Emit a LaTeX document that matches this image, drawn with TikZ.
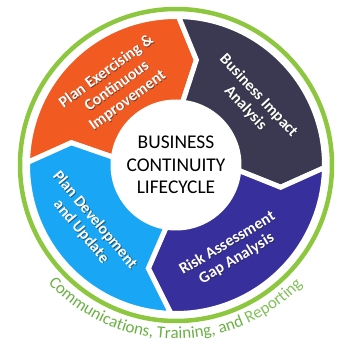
\documentclass[tikz,border=0pt]{standalone}
\usepackage{fontspec}
\setmainfont{Carlito}
\usepackage{tikz}
\usetikzlibrary{decorations.text}
\definecolor{BcOrange}{RGB}{241,91,34}
\definecolor{BcSlate}{RGB}{58,57,81}
\definecolor{BcIndigo}{RGB}{55,47,156}
\definecolor{BcSky}{RGB}{25,167,245}
\definecolor{BcRing}{RGB}{141,198,63}
\definecolor{BcGreen}{RGB}{106,176,68}
\definecolor{BcLight}{RGB}{130,192,90}
\tikzset{seg/.style={draw=white,line width=5bp,line join=miter}, lbl/.style={text=white,align=center,font=\fontsize{16}{18}\selectfont\bfseries}, shd/.style={lbl,text=black!85,opacity=0.6}}

\begin{document}
\begin{tikzpicture}[x=1bp,y=1bp]
\useasboundingbox (-176,-184) rectangle (178,165);
\draw[draw=BcRing,line width=4.5bp] (0,0) circle[radius=156];
% the four chevrons, clockwise
\path[seg,fill=BcOrange] (179:148.5) arc[start angle=179,end angle=89,radius=148.5] -- (79:107) -- (84:63) arc[start angle=84,end angle=173,radius=63] -- (168:107) -- cycle;
\path[seg,fill=BcSlate] (89:148.5) arc[start angle=89,end angle=-1,radius=148.5] -- (-12:107) -- (-5:63) arc[start angle=-5,end angle=84,radius=63] -- (79:107) -- cycle;
\path[seg,fill=BcIndigo] (-1:148.5) arc[start angle=-1,end angle=-92,radius=148.5] -- (-105:107) -- (-99:63) arc[start angle=-99,end angle=-5,radius=63] -- (-12:107) -- cycle;
\path[seg,fill=BcSky] (-92:148.5) arc[start angle=-92,end angle=-181,radius=148.5] -- (-192:107) -- (-187:63) arc[start angle=-187,end angle=-99,radius=63] -- (-105:107) -- cycle;
\node[circle,fill=white,minimum size=126bp,inner sep=0pt,align=center,font=\fontsize{19.5}{22.5}\selectfont] (hub) at (0,0) {BUSINESS\\CONTINUITY\\LIFECYCLE};
% labels with a soft shadow
\node[shd,rotate=36] (exerciseshd) at (-58.2,78.2) {Plan Exercising \&\\Continuous\\Improvement};
\node[lbl,rotate=36] (exercise) at (-59,79) {Plan Exercising \&\\Continuous\\Improvement};
\node[shd,rotate=-47] (impactshd) at (76.8,62.2) {Business Impact\\Analysis};
\node[lbl,rotate=-47] (impact) at (76,63) {Business Impact\\Analysis};
\node[shd,rotate=31] (riskshd) at (56.8,-86.8) {Risk Assessment\\Gap Analysis};
\node[lbl,rotate=31] (risk) at (56,-86) {Risk Assessment\\Gap Analysis};
\node[shd,rotate=-50] (plandevshd) at (-87.2,-61.8) {Plan Development\\and Update};
\node[lbl,rotate=-50] (plandev) at (-88,-61) {Plan Development\\and Update};
% ring caption
\path[decorate,decoration={text along path,text align=center,text={|\fontsize{17}{20}\selectfont\color{BcGreen}|Communications, Training, and |\fontsize{17}{20}\selectfont\color{BcLight}|Reporting}}] (-140.3:174) arc[start angle=-140.3,end angle=-40.3,radius=174];
\end{tikzpicture}
\end{document}
